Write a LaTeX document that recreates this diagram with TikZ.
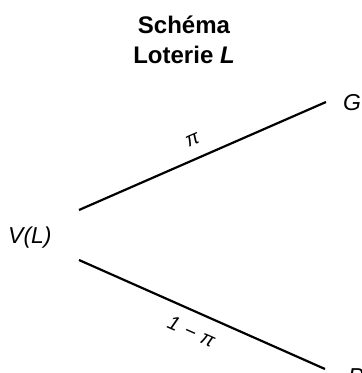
\documentclass[tikz,border=0pt]{standalone}
\usepackage{fontspec}
\setmainfont{Liberation Sans}
\usetikzlibrary{positioning}
\tikzset{
  titre/.style={font=\fontsize{24}{30}\selectfont\bfseries, align=center, inner sep=0pt},
  issue/.style={font=\fontsize{23}{27}\selectfont\itshape, inner sep=0pt, anchor=base west},
  branche/.style={line width=2.2pt, line cap=butt},
  proba/.style={font=\fontsize{20}{24}\selectfont\itshape, inner sep=0pt, sloped},
}

\begin{document}
\begin{tikzpicture}[x=1pt, y=-1pt]
\useasboundingbox (0,0) rectangle (362,373);

% ── Titre ───────────────────────────────────────────────────
\node[titre, anchor=base] (titre) at (184,63) {Schéma\\Loterie \textit{L}};

% ── Noeuds ──────────────────────────────────────────────────
\node[issue] (vl) at (8,243) {V(L)};
\node[issue] (g) at (343,110) {G};
\node[issue] (p) at (348,384) {P};

\coordinate (dhaut) at (79,210);
\coordinate (fhaut) at (326,102);
\coordinate (dbas) at (79,260);
\coordinate (fbas) at (325,369);

% ── Branches ────────────────────────────────────────────────
\draw[branche] (dhaut) -- (fhaut) node[proba, pos=0.49, above=12pt] {π};
\draw[branche] (dbas) -- (fbas) node[proba, pos=0.49, below=12pt] {1\,\,−\,\,π};

\end{tikzpicture}
\end{document}
